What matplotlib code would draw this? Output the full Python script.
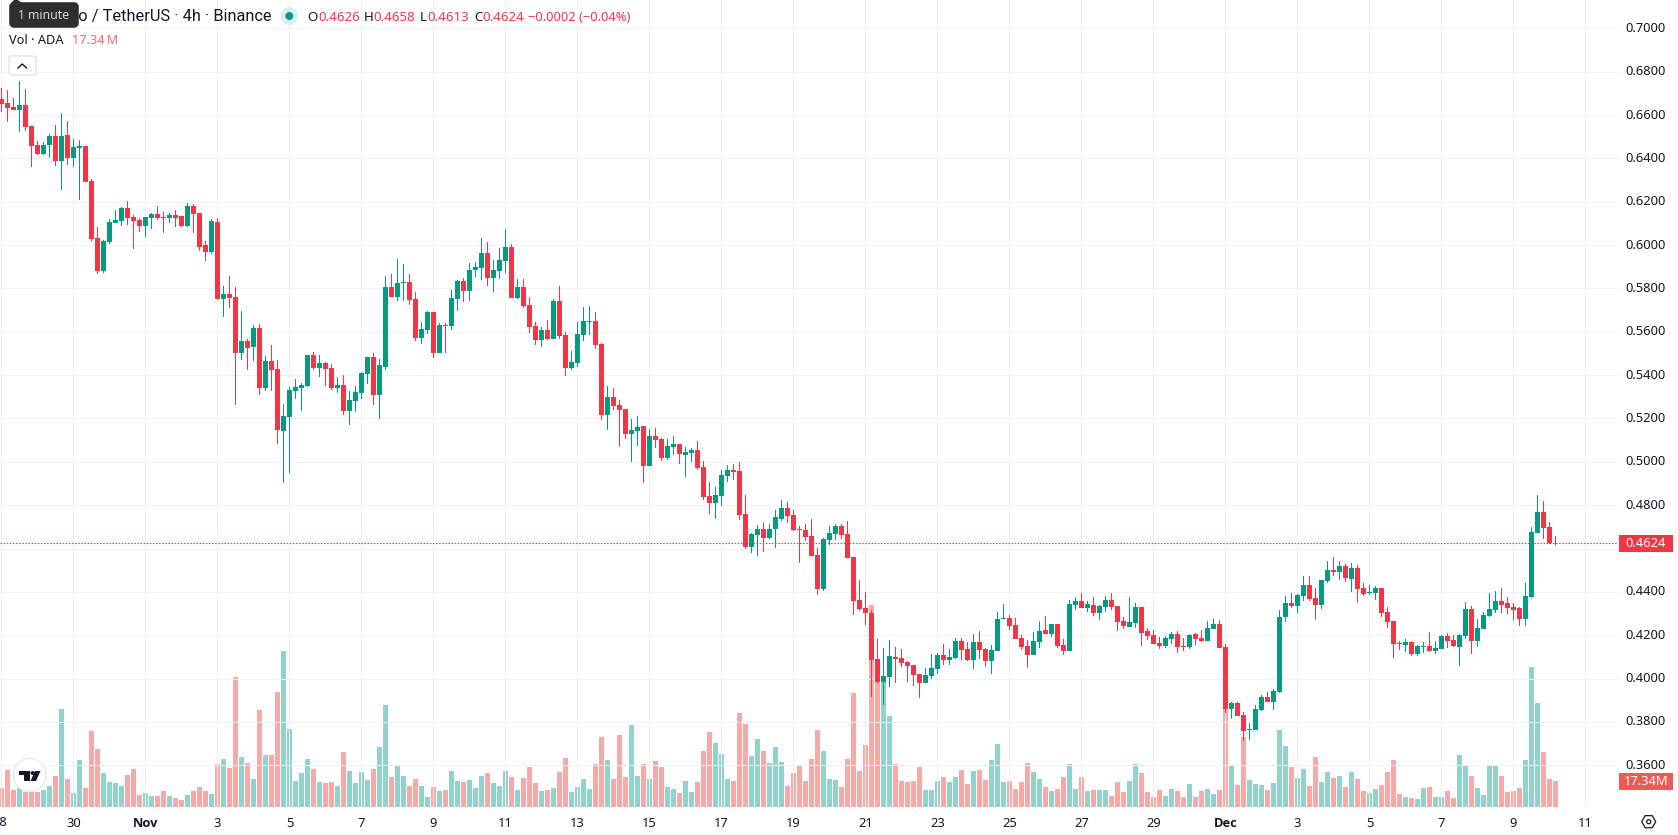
#!/usr/bin/env python3
# -*- coding: utf-8 -*-
import numpy as np
import matplotlib
matplotlib.use("Agg")
import matplotlib.pyplot as plt
from matplotlib.patches import FancyBboxPatch, Rectangle, Circle, Polygon

plt.rcParams['font.family'] = ['Noto Sans', 'DejaVu Sans']
plt.rcParams['ytick.alignment'] = 'center'

# ADA/USDT 4h candles, first one at Oct 28 00:00
opens = [.6674,.6656,.6637,.6623,.6646,.6550,.6462,.6420,.6462,.6503,
         .6388,.6508,.6402,.6448,.6457,.6296,.6033,.5880,.6015,.6102,
         .6111,.6171,.6129,.6116,.6088,.6125,.6143,.6129,.6125,.6139,
         .6134,.6088,.6180,.6148,.6000,.5968,.6107,.5751,.5774,.5760,
         .5502,.5557,.5530,.5617,.5340,.5465,.5428,.5142,.5207,.5327,
         .5340,.5350,.5493,.5433,.5456,.5433,.5340,.5354,.5234,.5281,
         .5318,.5405,.5484,.5308,.5438,.5806,.5760,.5825,.5830,.5751,
         .5571,.5608,.5691,.5502,.5631,.5627,.5751,.5834,.5788,.5885,
         .5894,.5963,.5848,.5880,.5926,.5991,.5756,.5806,.5724,.5627,
         .5562,.5608,.5567,.5742,.5585,.5433,.5456,.5585,.5645,.5650,
         .5544,.5216,.5299,.5262,.5244,.5128,.5142,.5165,.4981,.5119,
         .5105,.5018,.5068,.5082,.5031,.5041,.5054,.4976,.4842,.4810,
         .4842,.4934,.4962,.4957,.4759,.4607,.4662,.4690,.4649,.4690,
         .4736,.4787,.4755,.4690,.4685,.4658,.4570,.4413,.4639,.4667,
         .4704,.4667,.4561,.4363,.4326,.4302,.4090,.3984,.4007,.4100,
         .4095,.4077,.4063,.4021,.3980,.4012,.4044,.4109,.4085,.4095,
         .4173,.4137,.4085,.4169,.4137,.4081,.4127,.4275,.4280,.4247,
         .4187,.4150,.4109,.4169,.4224,.4205,.4252,.4155,.4127,.4339,
         .4358,.4326,.4339,.4302,.4330,.4363,.4335,.4265,.4238,.4256,
         .4330,.4219,.4201,.4164,.4150,.4183,.4205,.4150,.4146,.4205,
         .4187,.4173,.4229,.4252,.4146,.3860,.3887,.3832,.3763,.3763,
         .3855,.3915,.3892,.3938,.4284,.4349,.4335,.4381,.4432,.4372,
         .4339,.4450,.4501,.4492,.4519,.4459,.4510,.4418,.4395,.4395,
         .4418,.4307,.4265,.4164,.4155,.4169,.4113,.4146,.4150,.4127,
         .4137,.4196,.4178,.4146,.4196,.4321,.4173,.4229,.4288,.4316,
         .4358,.4349,.4330,.4326,.4275,.4376,.4672,.4768,.4699,.4626]

highs = [.6725,.6715,.6678,.6757,.6720,.6550,.6480,.6475,.6512,.6554,
         .6609,.6572,.6489,.6485,.6457,.6305,.6083,.6023,.6120,.6162,
         .6175,.6203,.6139,.6125,.6129,.6148,.6180,.6153,.6148,.6162,
         .6134,.6194,.6190,.6148,.6019,.6120,.6125,.5811,.5857,.5806,
         .5696,.5567,.5631,.5636,.5488,.5539,.5470,.5267,.5345,.5382,
         .5363,.5493,.5507,.5493,.5461,.5451,.5391,.5400,.5327,.5350,
         .5414,.5484,.5502,.5475,.5857,.5867,.5936,.5913,.5867,.5783,
         .5645,.5696,.5691,.5640,.5640,.5793,.5839,.5848,.5917,.5922,
         .6033,.6014,.5931,.5987,.6074,.6005,.5843,.5843,.5760,.5645,
         .5622,.5654,.5751,.5811,.5599,.5511,.5645,.5714,.5719,.5691,
         .5548,.5350,.5340,.5285,.5244,.5198,.5211,.5165,.5151,.5156,
         .5110,.5105,.5119,.5082,.5068,.5064,.5096,.5004,.4907,.4884,
         .4962,.4985,.4990,.4999,.4847,.4672,.4708,.4722,.4713,.4778,
         .4824,.4815,.4778,.4704,.4713,.4736,.4603,.4649,.4704,.4713,
         .4713,.4727,.4561,.4455,.4399,.4316,.4183,.4141,.4178,.4146,
         .4137,.4081,.4063,.4021,.4049,.4113,.4118,.4160,.4137,.4187,
         .4187,.4169,.4205,.4219,.4141,.4155,.4307,.4344,.4293,.4280,
         .4201,.4178,.4215,.4265,.4288,.4252,.4252,.4183,.4363,.4376,
         .4395,.4358,.4376,.4339,.4381,.4395,.4335,.4284,.4376,.4349,
         .4330,.4233,.4224,.4192,.4196,.4215,.4219,.4187,.4205,.4210,
         .4224,.4265,.4275,.4270,.4160,.3892,.3892,.3846,.3795,.3878,
         .3924,.3938,.3952,.4316,.4381,.4395,.4390,.4473,.4473,.4418,
         .4455,.4542,.4561,.4542,.4529,.4533,.4524,.4441,.4432,.4427,
         .4418,.4330,.4265,.4173,.4183,.4173,.4155,.4169,.4215,.4173,
         .4201,.4210,.4201,.4205,.4353,.4335,.4275,.4307,.4395,.4404,
         .4418,.4376,.4349,.4330,.4441,.4699,.4847,.4819,.4722,.4658]

lows = [.6614,.6568,.6623,.6522,.6526,.6360,.6416,.6416,.6402,.6365,
        .6254,.6369,.6360,.6208,.6291,.6015,.5867,.5871,.6005,.6102,
        .6088,.6092,.5982,.6060,.6037,.6074,.6116,.6056,.6102,.6083,
        .6083,.6083,.6056,.5973,.5926,.5959,.5747,.5668,.5710,.5262,
        .5470,.5424,.5465,.5308,.5327,.5327,.5082,.4902,.4948,.5290,
        .5234,.5345,.5424,.5391,.5350,.5331,.5318,.5216,.5170,.5230,
        .5290,.5359,.5262,.5198,.5424,.5760,.5742,.5742,.5724,.5557,
        .5544,.5590,.5479,.5502,.5502,.5608,.5696,.5737,.5742,.5853,
        .5839,.5811,.5783,.5843,.5871,.5756,.5751,.5710,.5594,.5539,
        .5530,.5562,.5567,.5567,.5396,.5424,.5438,.5557,.5585,.5521,
        .5193,.5147,.5239,.5069,.5105,.4999,.5073,.4902,.4981,.5064,
        .5004,.5009,.5031,.4990,.4930,.4999,.4962,.4824,.4759,.4736,
        .4796,.4907,.4916,.4732,.4598,.4579,.4566,.4584,.4644,.4602,
        .4727,.4717,.4681,.4533,.4635,.4566,.4386,.4404,.4616,.4639,
        .4644,.4556,.4293,.4312,.4247,.3915,.3978,.3878,.3961,.3980,
        .4053,.3984,.3965,.3910,.3980,.3998,.4021,.4063,.4063,.4090,
        .4085,.4081,.4044,.4090,.4053,.4021,.4127,.4275,.4224,.4183,
        .4132,.4049,.4109,.4141,.4205,.4192,.4141,.4109,.4127,.4316,
        .4326,.4307,.4288,.4270,.4307,.4316,.4219,.4229,.4238,.4233,
        .4150,.4178,.4160,.4137,.4141,.4160,.4118,.4127,.4137,.4155,
        .4169,.4173,.4229,.4141,.3841,.3814,.3828,.3712,.3716,.3763,
        .3850,.3892,.3855,.3934,.4261,.4326,.4302,.4358,.4358,.4270,
        .4321,.4441,.4473,.4455,.4446,.4399,.4349,.4381,.4386,.4363,
        .4284,.4233,.4095,.4132,.4123,.4104,.4104,.4118,.4123,.4113,
        .4137,.4141,.4146,.4058,.4183,.4113,.4146,.4229,.4284,.4302,
        .4302,.4298,.4270,.4243,.4243,.4372,.4672,.4644,.4621,.4613]

closes = [.6651,.6632,.6623,.6646,.6545,.6457,.6420,.6462,.6503,.6388,
          .6503,.6402,.6453,.6457,.6291,.6029,.5880,.6019,.6107,.6116,
          .6171,.6125,.6111,.6088,.6129,.6143,.6125,.6125,.6139,.6125,
          .6088,.6180,.6143,.5991,.5968,.6111,.5751,.5774,.5756,.5502,
          .5557,.5525,.5617,.5340,.5465,.5424,.5147,.5211,.5331,.5345,
          .5354,.5493,.5433,.5456,.5428,.5340,.5354,.5234,.5285,.5322,
          .5410,.5484,.5308,.5447,.5806,.5760,.5825,.5830,.5747,.5571,
          .5613,.5691,.5502,.5631,.5627,.5756,.5834,.5788,.5885,.5899,
          .5963,.5848,.5885,.5931,.5991,.5756,.5806,.5719,.5622,.5562,
          .5608,.5567,.5742,.5581,.5433,.5461,.5590,.5650,.5650,.5539,
          .5216,.5299,.5257,.5239,.5128,.5147,.5161,.4981,.5119,.5101,
          .5018,.5073,.5082,.5036,.5045,.5054,.4971,.4838,.4810,.4847,
          .4939,.4962,.4953,.4755,.4607,.4667,.4690,.4649,.4690,.4745,
          .4787,.4750,.4685,.4685,.4653,.4566,.4413,.4644,.4672,.4704,
          .4662,.4556,.4358,.4321,.4302,.4085,.3984,.4012,.4104,.4090,
          .4072,.4058,.4016,.3980,.4016,.4049,.4109,.4085,.4100,.4173,
          .4132,.4085,.4169,.4132,.4081,.4132,.4275,.4280,.4243,.4183,
          .4146,.4109,.4173,.4219,.4205,.4252,.4150,.4127,.4344,.4358,
          .4326,.4344,.4302,.4335,.4363,.4330,.4261,.4243,.4261,.4330,
          .4210,.4196,.4160,.4150,.4187,.4205,.4146,.4146,.4201,.4183,
          .4173,.4233,.4252,.4141,.3860,.3887,.3828,.3758,.3767,.3860,
          .3915,.3892,.3943,.4284,.4349,.4335,.4386,.4432,.4367,.4339,
          .4455,.4501,.4492,.4519,.4464,.4510,.4413,.4390,.4399,.4418,
          .4302,.4261,.4160,.4160,.4169,.4113,.4150,.4150,.4127,.4141,
          .4196,.4173,.4150,.4201,.4321,.4173,.4233,.4293,.4321,.4358,
          .4339,.4326,.4316,.4275,.4381,.4676,.4768,.4695,.4626,.4624]

# volume in millions
volumes = [12.67,24.68,11.34,12.67,10.00,10.00,10.00,11.34,14.00,20.67,
           65.36,18.67,9.34,31.34,12.67,50.68,38.68,22.67,16.67,16.01,
           14.00,21.34,25.34,8.00,9.34,7.34,7.34,10.67,7.34,6.00,
           4.67,8.00,10.67,13.34,10.67,8.67,28.68,32.01,26.01,86.70,
           33.35,29.34,18.67,64.69,34.68,34.68,76.69,104.04,52.02,17.34,
           22.67,32.01,25.34,16.67,16.01,16.67,14.00,36.68,24.01,16.01,
           23.34,18.01,25.34,40.01,68.02,20.01,27.34,20.67,14.00,18.67,
           14.00,6.67,13.34,10.67,11.34,24.01,17.34,16.67,18.01,12.67,
           20.67,22.67,16.01,14.00,24.01,20.01,11.34,19.34,26.68,16.01,
           10.67,11.34,12.67,23.34,32.68,10.00,13.34,18.67,12.00,28.68,
           46.68,31.34,18.67,48.02,20.01,54.69,20.67,28.68,18.67,30.68,
           26.68,13.34,12.00,9.34,17.34,10.00,16.67,37.35,50.02,42.68,
           35.35,18.67,17.34,62.69,55.35,34.01,45.35,37.35,29.34,40.01,
           30.01,14.00,22.67,27.34,17.34,32.01,51.35,37.35,18.67,18.01,
           13.34,32.01,76.03,24.01,41.35,134.7,89.14,83.36,60.69,28.68,
           17.34,16.67,17.34,26.68,11.34,11.34,17.34,20.01,16.67,20.01,
           24.68,15.34,24.01,24.68,18.01,31.34,42.02,16.67,17.34,12.00,
           16.67,29.34,23.34,18.67,13.34,10.67,12.00,20.01,28.68,12.00,
           20.01,10.67,11.34,11.34,11.34,7.34,16.67,10.00,17.34,28.68,
           22.67,10.00,6.67,11.34,7.34,12.00,10.67,6.67,15.34,6.67,
           10.67,12.00,8.67,11.34,65.36,27.34,14.67,46.68,18.01,15.34,
           14.67,11.34,16.01,51.35,40.68,26.68,19.34,25.34,14.00,33.35,
           16.67,23.34,19.34,20.67,13.34,23.34,18.67,10.67,9.34,12.00,
           14.67,23.34,31.34,8.67,6.67,6.00,5.34,12.67,13.34,6.67,
           6.67,10.67,6.00,34.68,27.34,20.67,12.67,8.00,27.34,28.01,
           20.67,10.00,10.67,12.67,31.34,93.37,69.36,36.68,18.67,17.34]

price_ticks = [0.36, 0.38, 0.40, 0.42, 0.44, 0.46, 0.48, 0.50, 0.52, 0.54, 0.56, 0.58,
               0.60, 0.62, 0.64, 0.66, 0.68, 0.70]
time_labels = ['28', '30', 'Nov', '3', '5', '7', '9', '11', '13', '15', '17', '19', '21',
               '23', '25', '27', '29', 'Dec', '3', '5', '7', '9', '11']
last_price = 0.4624
last_volume = 17.34

GREEN = '#089981'
RED = '#f23645'
W, H = 1678, 835
PANE_W, PANE_H = 1618, 807
BODY = 5.4 / 6

opens, highs, lows, closes, volumes = map(np.array, (opens, highs, lows, closes, volumes))
x = np.arange(len(opens))
up = closes >= opens

fig = plt.figure(figsize=(W / 100, H / 100), dpi=100, facecolor='white')
rect = [0, (H - PANE_H) / H, PANE_W / W, PANE_H / H]

# volume sits under the candles on its own scale
vax = fig.add_axes(rect, zorder=1)
vax.bar(x, volumes, width=BODY, color=np.where(up, '#92d2cc', '#f7a9a7'), linewidth=0)
vax.set_xlim(-0.25, 269.4167)
vax.set_ylim(0, 538.2)
vax.axis('off')

ax = fig.add_axes(rect, zorder=2)
ax.patch.set_visible(False)
wicks = ax.vlines(x, lows, highs, colors=np.where(up, GREEN, RED), linewidth=0.72, zorder=3)
wicks.set_snap(False)
ax.bar(x, np.abs(closes - opens), bottom=np.minimum(opens, closes), width=BODY,
       color=np.where(up, GREEN, RED), linewidth=0, zorder=4)
ax.axhline(last_price, color=RED, linewidth=0.8, linestyle=(0, (1.3, 1.5)), zorder=5)

ax.set_xlim(-0.25, 269.4167)
ax.set_ylim(0.34074, 0.71306)
ax.yaxis.tick_right()
ax.set_yticks(price_ticks)
# 0.46 would sit under the last price tag
ax.set_yticklabels(['' if p == 0.46 else f'{p:.4f}' for p in price_ticks], fontsize=9.3, color='#131722')
time_ticks = np.arange(len(time_labels)) * 12
ax.set_xticks(time_ticks)
ax.set_xticklabels([''] + time_labels[1:], fontsize=9.3, color='#131722')
for lab in ax.get_xticklabels():
    if lab.get_text() in ('Nov', 'Dec'):
        lab.set_family('Open Sans')
        lab.set_fontweight('bold')
ax.tick_params(axis='both', length=0)
ax.tick_params(axis='y', pad=5.5)
ax.tick_params(axis='x', pad=7)
ax.grid(True, color='#f0f1f3', linewidth=0.72, zorder=0)
for gl in ax.get_xgridlines():
    gl.set_snap(False)
ax.set_axisbelow(True)
for s in ax.spines.values():
    s.set_visible(False)

# header, labels and small widgets, placed in pixels
ui = fig.add_axes([0, 0, 1, 1], zorder=3)
ui.set_xlim(0, W)
ui.set_ylim(H, 0)
ui.axis('off')

# first date label runs off the left edge
ui.text(0.2, 822, time_labels[0], fontsize=9.3, color='#131722', ha='center', va='center')

ui.text(272, 16.5, 'Cardano / TetherUS · 4h · Binance', fontsize=11.8, family='Roboto', color='#131722',
        ha='right', va='center', zorder=2)
ui.add_patch(Circle((289.3, 16), 9, color='#d9f0ec', lw=0, zorder=2))
ui.add_patch(Circle((289.3, 16), 4, color=GREEN, lw=0, zorder=3))
for lx, vx, name, val in [(307, 318, 'O', '0.4626'), (364, 373, 'H', '0.4658'),
                          (420, 427, 'L', '0.4613'), (474, 482, 'C', '0.4624')]:
    ui.text(lx, 17.5, name, fontsize=9.6, color='#131722', va='center')
    ui.text(vx, 17.5, val, fontsize=9.6, color=RED, va='center')
ui.text(528.5, 17.5, '−0.0002 (−0.04%)', fontsize=9.3, color=RED, va='center')
ui.text(9, 41, 'Vol · ADA', fontsize=9.2, color='#131722', va='center')
ui.text(72, 41, '17.34\u2009M', fontsize=9.2, color='#f7696f', va='center')

# tooltip over the symbol name
ui.add_patch(FancyBboxPatch((12, 5), 64, 20, boxstyle='round,pad=0,rounding_size=2', fc='#2e2e2e', ec='#2e2e2e',
                            lw=4, zorder=6))
ui.add_patch(Polygon([(11, 3), (14, 0), (18, 0), (22, 3)], closed=True, fc='#2e2e2e', ec='none', zorder=6))
ui.text(44, 15.5, '1 minute', fontsize=8.8, color='#d8d8d8', ha='center', va='center', zorder=7)

# collapse button
ui.add_patch(FancyBboxPatch((9, 56), 27, 19, boxstyle='round,pad=0,rounding_size=2.5', fc='white', ec='#e0e3eb',
                            lw=1, zorder=4))
ui.plot([18, 22.3, 26.6], [68, 64, 68], color='#131722', lw=1, zorder=5)

# logo badge
ui.add_patch(Circle((29.7, 775), 16.5, fc='white', ec='#e8e8e8', lw=1, zorder=4))
ui.add_patch(Polygon([(19, 771), (29.5, 771), (29.5, 781), (24, 781), (24, 775), (19, 775)], closed=True,
                     fc='#131722', ec='none', zorder=5))
ui.add_patch(Circle((32.6, 773), 2, fc='#131722', lw=0, zorder=5))
ui.add_patch(Polygon([(35, 771), (40.5, 771), (36, 781), (30.5, 781)], closed=True, fc='#131722', ec='none', zorder=5))

# last value tags on the price scale
ui.add_patch(Rectangle((1619, 534.6), 54, 17.4, fc=RED, ec='none'))
ui.text(1646, 543.5, f'{last_price:.4f}', fontsize=9.3, color='white', ha='center', va='center')
ui.add_patch(Rectangle((1619, 773), 54, 17, fc='#ef5a56', ec='none'))
ui.text(1646, 781.5, f'{last_volume:.2f}M', fontsize=9.3, color='white', ha='center', va='center')

# settings icon at the scale corner
ang = np.deg2rad(np.arange(0, 360, 60))
ui.add_patch(Polygon(np.c_[1648.7 + 7 * np.cos(ang), 821.7 + 7 * np.sin(ang)], closed=True, fc='none',
                     ec='#131722', lw=0.9))
ui.add_patch(Circle((1648.7, 821.7), 2, fc='none', ec='#131722', lw=0.9))

plt.savefig('out.png', dpi=100)
